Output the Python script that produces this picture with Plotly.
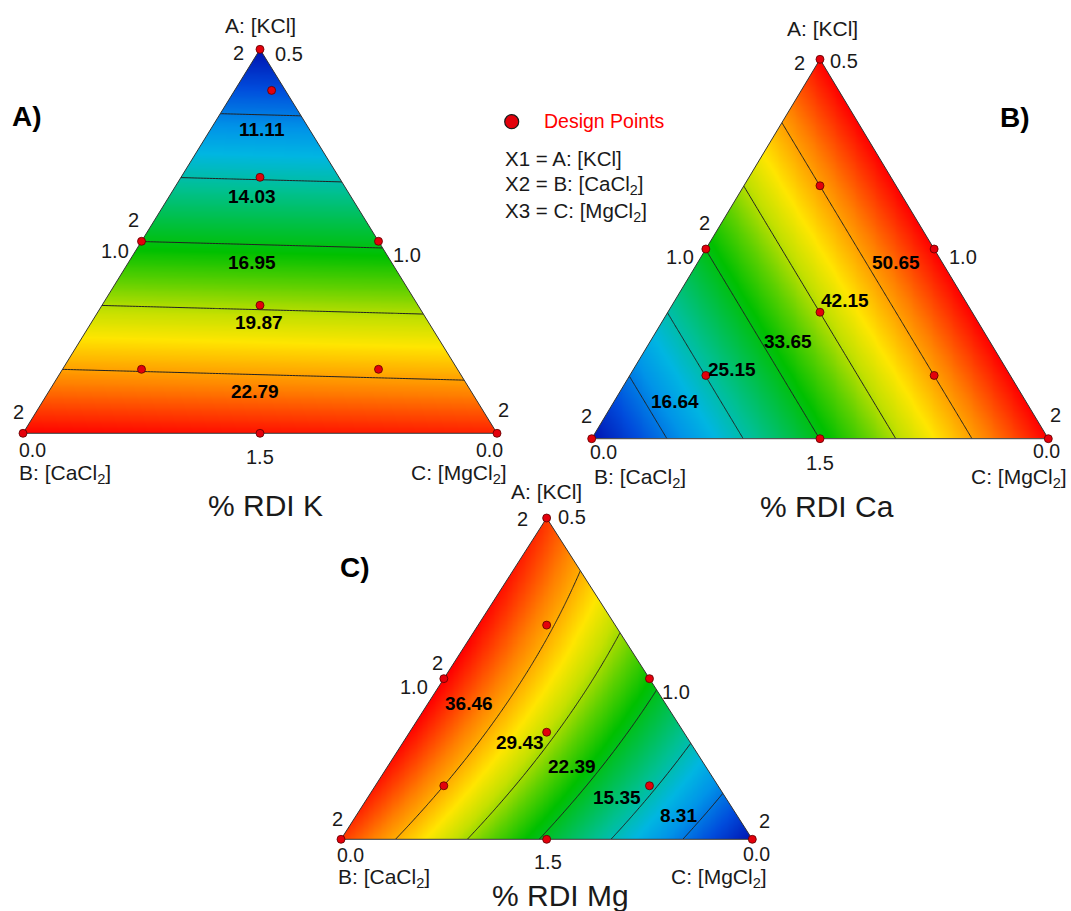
import numpy as np
import plotly.graph_objects as go

# ---------------- data ----------------
components = ["A: [KCl]", "B: [CaCl<sub>2</sub>]", "C: [MgCl<sub>2</sub>]"]
responses = ["% RDI K", "% RDI Ca", "% RDI Mg"]
panel_tags = ["A)", "B)", "C)"]

# fitted Scheffe quadratic mixture models, coefficients for [A, B, C, AB, AC, BC]
rdi_k_coef = [8.17, 25.71, 25.14, 0.0, 0.0, 0.0]
rdi_ca_coef = [59.15, 8.25, 59.15, 0.0, 0.0, 0.0]
rdi_mg_coef = [41.95, 41.80, 1.50, 10.0, 8.33, 0.0]

# contour levels shown on each plot
rdi_k_levels = [11.11, 14.03, 16.95, 19.87, 22.79]
rdi_ca_levels = [16.64, 25.15, 33.65, 42.15, 50.65]
rdi_mg_levels = [8.31, 15.35, 22.39, 29.43, 36.46]

# design points (component fractions A, B, C)
design_a = [1.0, 0.0, 0.0, 0.5, 0.5, 0.0, 1/3, 2/3, 1/6, 1/6]
design_b = [0.0, 1.0, 0.0, 0.5, 0.0, 0.5, 1/3, 1/6, 2/3, 1/6]
design_c = [0.0, 0.0, 1.0, 0.0, 0.5, 0.5, 1/3, 1/6, 1/6, 2/3]
extra_point_k = [0.893, 0.029, 0.078]

# vertex / edge tick texts
replicate_text = "2"
apex_value = "0.5"
mid_value = "1.0"
corner_value = "0.0"
bottom_mid_value = "1.5"

legend_lines = ["X1 = A: [KCl]", "X2 = B: [CaCl<sub>2</sub>]", "X3 = C: [MgCl<sub>2</sub>]"]

# ---------------- style / layout ----------------
W, H = 1071, 911
PAD = 0.02
FONT = "Arial, Liberation Sans, sans-serif"
TXT = "#1a1a1a"

colorscale = [
    [0.00, "#0012b0"], [0.10, "#004cdc"], [0.20, "#0094e8"], [0.27, "#00b6e2"],
    [0.36, "#00c092"], [0.45, "#00c040"], [0.52, "#00c000"], [0.60, "#5cd000"],
    [0.68, "#c4e000"], [0.75, "#ffe600"], [0.87, "#ff8000"], [1.00, "#ff0000"],
]

# triangle pixel geometry: (x of B corner, x of C corner, y of base, y of apex)
panels = [
    dict(coef=rdi_k_coef, levels=rdi_k_levels, tri=(23.0, 497.0, 433.3, 49.3), extra=True,
         label_px=[(262, 129), (252, 197), (252, 262), (259, 323), (255, 391)],
         txt=dict(A=(260, 25), rep_apex=(238, 53), apex=(289, 54), rep_left=(133, 220),
                  left=(115, 251), right=(407, 255), rep_bl=(18, 412), bl=(32, 450),
                  Blab=(17, 474), rep_br=(503, 410), br=(489, 450), Clab=(509, 474),
                  bmid=(260, 457), title=(265, 505), tag=(27, 116))),
    dict(coef=rdi_ca_coef, levels=rdi_ca_levels, tri=(591.7, 1048.3, 438.7, 59.3), extra=False,
         label_px=[(675, 401), (732, 369), (788, 342), (845, 300), (896, 262)],
         txt=dict(A=(822, 28), rep_apex=(799, 63), apex=(844, 61), rep_left=(704, 223),
                  left=(680, 257), right=(963, 257), rep_bl=(586, 416), bl=(603, 452),
                  Blab=(592, 478), rep_br=(1055, 415), br=(1046, 451), Clab=(1069, 478),
                  bmid=(820, 463), title=(827, 507), tag=(1015, 117))),
    dict(coef=rdi_mg_coef, levels=rdi_mg_levels, tri=(341.0, 752.3, 839.3, 518.0), extra=False,
         label_px=[(678, 815), (617, 797), (572, 766), (520, 742), (469, 703)],
         txt=dict(A=(546, 492), rep_apex=(522, 519), apex=(572, 517), rep_left=(437, 663),
                  left=(414, 687), right=(676, 692), rep_bl=(337, 819), bl=(350, 855),
                  Blab=(336, 878), rep_br=(764, 821), br=(756, 854), Clab=(769, 878),
                  bmid=(548, 862), title=(560, 895), tag=(355, 567))),
]


def tern_xy(a, b, c):
    a = np.asarray(a, float); b = np.asarray(b, float); c = np.asarray(c, float)
    s = a + b + c
    a, c = a / s, c / s
    return c + a / 2.0, a


def model(coef, a, b, c):
    return (coef[0] * a + coef[1] * b + coef[2] * c
            + coef[3] * a * b + coef[4] * a * c + coef[5] * b * c)


def px(x):
    return x / W


def py(y):
    return 1 - y / H


fig = go.Figure()
annotations = []
shapes = []

n = 161
gx = np.linspace(0, 1, n)
gy = np.linspace(0, 1, n)
GX, GY = np.meshgrid(gx, gy)
GA = GY
GC = GX - GY / 2.0
GB = 1.0 - GA - GC

P = PAD + 0.01
mask_polys = [
    [(-P, -P), (1 + P, -P), (1 + P, 0), (-P, 0)],
    [(-P, 1), (1 + P, 1), (1 + P, 1 + P), (-P, 1 + P)],
    [(-P, -P), (0, -P), (0, 0), (0.5, 1), (0.5, 1 + P), (-P, 1 + P)],
    [(1 + P, -P), (1, -P), (1, 0), (0.5, 1), (0.5, 1 + P), (1 + P, 1 + P)],
]


def add_text(text, pos, size=20, xanchor="center", color=TXT, bold=False):
    t = f"<b>{text}</b>" if bold else text
    annotations.append(dict(text=t, x=px(pos[0]), y=py(pos[1]), xref="paper", yref="paper",
                            xanchor=xanchor, yanchor="middle", showarrow=False,
                            font=dict(family=FONT, size=size, color=color)))


for i, p in enumerate(panels):
    k = "" if i == 0 else str(i + 1)
    xa, ya = "x" + k, "y" + k
    xB, xC, yb, yt = p["tri"]
    w, h = xC - xB, yb - yt
    fig.layout["xaxis" + k] = dict(domain=[px(xB - PAD * w), px(xC + PAD * w)],
                                   range=[-PAD, 1 + PAD], visible=False, fixedrange=True,
                                   anchor=ya)
    fig.layout["yaxis" + k] = dict(domain=[py(yb + PAD * h), py(yt - PAD * h)],
                                   range=[-PAD, 1 + PAD], visible=False, fixedrange=True,
                                   anchor=xa)

    z = model(p["coef"], GA, GB, GC)
    tri_z = z[(GB >= -1e-9) & (GC >= -1e-9)]
    lv = p["levels"]
    step = (lv[-1] - lv[0]) / (len(lv) - 1)
    fig.add_trace(go.Contour(
        x=gx, y=gy, z=np.round(z, 3), xaxis=xa, yaxis=ya,
        colorscale=colorscale, zmin=float(tri_z.min()), zmax=float(tri_z.max()),
        autocontour=False,
        contours=dict(start=lv[0], end=lv[-1] + step * 0.01, size=step,
                      coloring="heatmap", showlabels=False),
        line=dict(color="#222222", width=1),
        showscale=False, hoverinfo="skip"))

    for poly in mask_polys:
        fig.add_trace(go.Scatter(
            x=[q[0] for q in poly] + [poly[0][0]], y=[q[1] for q in poly] + [poly[0][1]],
            xaxis=xa, yaxis=ya, mode="lines", fill="toself", fillcolor="white",
            line=dict(width=0, color="white"), hoverinfo="skip", showlegend=False))

    vx, vy = tern_xy([0, 1, 0, 0], [1, 0, 0, 1], [0, 0, 1, 0])
    fig.add_trace(go.Scatter(x=vx, y=vy, xaxis=xa, yaxis=ya, mode="lines",
                             line=dict(color="#333333", width=1), hoverinfo="skip",
                             showlegend=False))

    da, db, dc = list(design_a), list(design_b), list(design_c)
    if p["extra"]:
        da.append(extra_point_k[0]); db.append(extra_point_k[1]); dc.append(extra_point_k[2])
    dx, dy = tern_xy(da, db, dc)
    fig.add_trace(go.Scatter(x=dx, y=dy, xaxis=xa, yaxis=ya, mode="markers",
                             marker=dict(size=8, color="#e3000b",
                                         line=dict(color="#5a0000", width=0.8)),
                             cliponaxis=False, hoverinfo="skip", showlegend=False))

    for lvl, pos in zip(lv, p["label_px"]):
        add_text(f"{lvl:.2f}", pos, size=19, color="#000000", bold=True)

    t = p["txt"]
    add_text(components[0], t["A"], size=21)
    add_text(replicate_text, t["rep_apex"])
    add_text(apex_value, t["apex"])
    add_text(replicate_text, t["rep_left"])
    add_text(mid_value, t["left"])
    add_text(mid_value, t["right"])
    add_text(replicate_text, t["rep_bl"])
    add_text(corner_value, t["bl"], size=19.5)
    add_text(components[1], t["Blab"], size=21, xanchor="left")
    add_text(replicate_text, t["rep_br"])
    add_text(corner_value, t["br"], size=19.5)
    add_text(components[2], t["Clab"], size=21, xanchor="right")
    add_text(bottom_mid_value, t["bmid"])
    add_text(responses[i], t["title"], size=30)
    add_text(panel_tags[i], t["tag"], size=28, color="#000000", bold=True)

# legend block
shapes.append(dict(type="circle", xref="paper", yref="paper",
                   x0=px(511.7 - 7), x1=px(511.7 + 7), y0=py(121.7 + 7), y1=py(121.7 - 7),
                   fillcolor="#e3000b", line=dict(color="#1a1a1a", width=1.2)))
add_text("Design Points", (541.7, 120.7), size=19.5, xanchor="left", color="#ff0000")
for txt, yy in zip(legend_lines, [158.3, 185.0, 211.7]):
    add_text(txt, (502.7, yy), size=20.5, xanchor="left")

fig.update_layout(width=W, height=H, autosize=False,
                  margin=dict(l=0, r=0, t=0, b=0, pad=0),
                  paper_bgcolor="white", plot_bgcolor="white",
                  showlegend=False, annotations=annotations, shapes=shapes,
                  font=dict(family=FONT, color=TXT))

fig.write_html("out.html", config={"displayModeBar": False},
               post_script="document.body.style.margin='0px';document.body.style.overflow='hidden';")
